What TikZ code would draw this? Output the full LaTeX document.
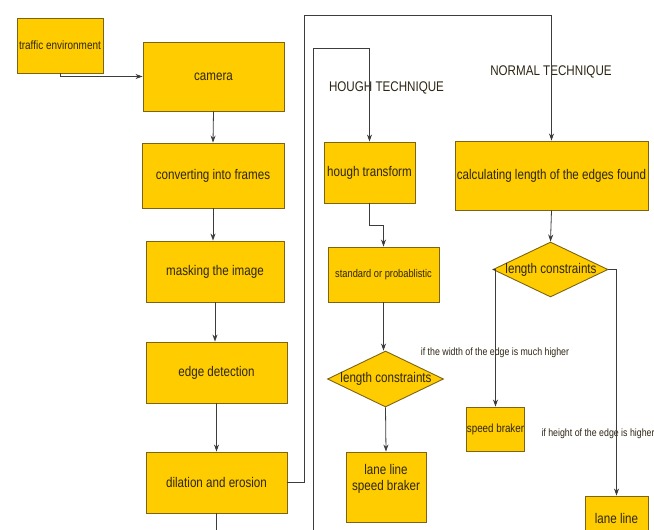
\documentclass[tikz,border=0pt]{standalone}
\usepackage{fontspec}
\setmainfont{Liberation Sans}[FakeStretch=0.83]
\usetikzlibrary{shapes.geometric,arrows.meta}
\definecolor{boxfill}{RGB}{255,204,0}
\definecolor{boxline}{RGB}{125,100,20}
\definecolor{linecol}{RGB}{60,60,60}
\definecolor{textcol}{RGB}{45,38,20}
\tikzset{
  box/.style={draw=boxline, fill=boxfill, line width=0.9pt, inner sep=0pt, text=textcol, align=center, font=\fontsize{14}{15}\selectfont},
  dia/.style={diamond, draw=boxline, fill=boxfill, line width=0.9pt, inner sep=0pt, text=textcol},
  conn/.style={draw=linecol, line width=0.8pt},
  arr/.style={conn, -{Stealth[length=7pt,width=5pt]}},
  lbl/.style={text=textcol, inner sep=0pt, align=center}
}
\begin{document}
\begin{tikzpicture}[x=1pt,y=-1pt]
\clip (0,0) rectangle (654,530);
\fill[white] (0,0) rectangle (654,530);
% left column
\node[box, minimum width=86pt, minimum height=55pt, font=\fontsize{12}{14}\selectfont] (traffic) at (60,45.5) {traffic environment};
\node[box, minimum width=141pt, minimum height=69pt] (camera) at (213.5,76.5) {camera};
\node[box, minimum width=142pt, minimum height=65pt] (conv) at (213,175.5) {converting into frames};
\node[box, minimum width=138pt, minimum height=61pt] (mask) at (215,271.5) {masking the image};
\node[box, minimum width=141pt, minimum height=61pt] (edge) at (216.5,372.5) {edge detection};
\node[box, minimum width=141pt, minimum height=61pt] (dil) at (216.5,482.5) {dilation and erosion};
% hough column
\node[box, minimum width=91pt, minimum height=61pt] (hough) at (369.5,172.5) {hough transform};
\node[box, minimum width=111pt, minimum height=55pt, font=\fontsize{11.2}{13}\selectfont] (std) at (383.5,274.5) {standard or probablistic};
\node[dia, minimum width=116pt, minimum height=56pt, aspect=2.07] (d1) at (385.5,379) {};
\node[lbl, font=\fontsize{14}{15}\selectfont] (d1t) at (386,379) {length constraints};
\node[box, minimum width=80pt, minimum height=70pt] (ls) at (386,487) {};
\node[lbl, font=\fontsize{14}{16.5}\selectfont] (lst) at (386,479) {lane line\\speed braker};
% normal column
\node[box, minimum width=193pt, minimum height=69pt] (calc) at (551.5,175.5) {calculating length of the edges found};
\node[dia, minimum width=115pt, minimum height=55pt, aspect=2.09] (d2) at (550.5,269.5) {};
\node[lbl, font=\fontsize{14}{15}\selectfont] (d2t) at (551,270) {length constraints};
\node[box, minimum width=57pt, minimum height=44pt, font=\fontsize{11.8}{13}\selectfont] (sb) at (495.5,429) {speed braker};
\node[box, minimum width=63pt, minimum height=44pt] (ll) at (616.5,518) {lane line};
% labels
\node[lbl, font=\fontsize{14}{15}\selectfont] (ht) at (386.5,88) {HOUGH TECHNIQUE};
\node[lbl, font=\fontsize{14}{15}\selectfont] (nt) at (551,72) {NORMAL TECHNIQUE};
\node[lbl, font=\fontsize{10.6}{12}\selectfont] (w1) at (495,353) {if the width of the edge is much higher};
\node[lbl, font=\fontsize{10.6}{12}\selectfont] (w2) at (598,434) {if height of the edge is higher};
% free ends
\coordinate (dilend) at (216.5,540);
\coordinate (hstart) at (313,540);
% connectors
\draw[arr] (traffic.south) |- (camera.west);
\draw[arr] (camera.south) -- (conv.north);
\draw[arr] (conv.south) -- (conv.south |- mask.north);
\draw[arr] (mask.south) -- (mask.south |- edge.north);
\draw[arr] (edge.south) -- (dil.north);
\draw[conn] (dil.south) -- (dilend);
\draw[arr] (dil.east) -- (304,482.5) -- (304,15.5) -- (calc.north |- 0,15.5) -- (calc.north);
\draw[arr] (hstart) -- (313,48) -- (hough.north |- 0,48) -- (hough.north);
\draw[arr] (hough.south) -- (369.5,225) -| (std.north);
\draw[arr] (std.south) -- (std.south |- d1.north);
\draw[arr] (d1.south) -- (ls.north);
\draw[arr] (calc.south) -- (d2.north);
\draw[arr] (d2.west) -| (sb.north);
\draw[arr] (d2.east) -| (ll.north);
\end{tikzpicture}
\end{document}
